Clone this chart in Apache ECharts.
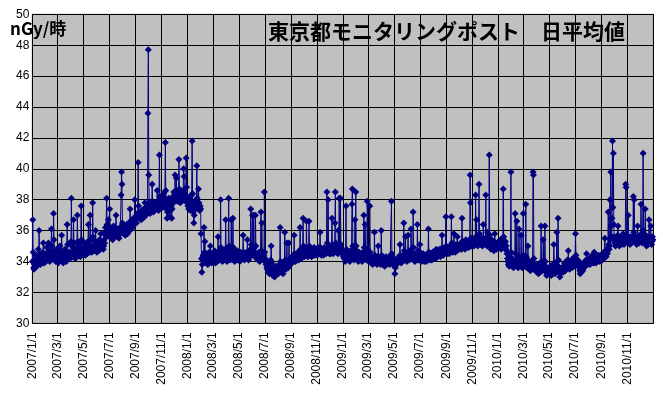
<!DOCTYPE html>
<html><head><meta charset="utf-8">
<script src="https://cdn.jsdelivr.net/npm/echarts@6/dist/echarts.min.js"></script>
<style>html,body{margin:0;padding:0;background:#fff}#c{width:663px;height:395px}</style>
</head><body><div id="c"></div>
<script>
// Daily average values (nGy/h), one array per month, per year
const v2007 = [
[34.0,36.7,34.6,33.6,33.5,33.8,34.1,33.7,33.9,34.4, 34.0,33.7,33.9,34.3,34.8,34.1,36.0,34.2,33.9,33.8, 34.2,34.5,34.0,33.9,34.3,34.6,35.2,34.1,33.9,34.2,34.4],
[34.2,34.0,34.5,34.9,34.3,34.1,34.6,35.2,34.4,34.2, 34.0,34.3,34.7,34.4,36.1,35.0,34.3,34.2,34.6,37.1, 35.4,34.5,34.1,34.3,34.0,34.4,34.8,34.3],
[34.2,34.0,33.9,34.3,34.1,34.6,35.0,34.4,34.1,34.3, 35.7,34.6,34.2,34.0,33.9,34.2,34.5,34.3,34.8,34.4, 34.1,34.0,34.5,36.4,35.1,34.5,34.2,34.3,34.6,34.4,34.2],
[34.5,35.3,38.1,35.0,34.6,34.3,34.5,36.7,35.2,34.6, 34.4,34.2,34.8,34.5,34.3,34.9,37.0,35.3,34.7,34.5, 34.4,35.1,34.6,34.3,34.9,37.6,35.4,34.8,34.6,34.5],
[34.7,34.5,34.9,35.2,34.6,34.4,34.8,35.0,34.7,34.5, 34.9,35.3,36.4,35.1,34.8,34.6,37.0,35.4,34.9,34.7, 34.6,35.0,37.8,35.6,35.0,34.8,34.7,35.1,35.3,36.0,35.0],
[34.8,34.6,35.0,35.2,34.9,34.7,35.1,35.4,34.9,34.8, 35.8,35.2,34.9,35.0,35.3,35.1,34.8,35.0,35.4,35.2, 35.9,36.2,35.7,35.6,38.1,36.4,35.8,35.9,36.7,36.0],
[35.9,37.4,36.2,35.7,35.5,35.8,36.1,35.6,35.4,35.9, 36.3,35.8,35.6,35.7,36.0,36.2,37.0,36.1,35.8,35.6, 35.9,36.0,35.7,35.5,35.8,36.2,36.0,35.9,38.3,39.8,39.0],
[36.5,36.0,35.8,36.1,35.9,36.3,36.0,35.7,35.9,36.2, 36.4,36.1,35.8,36.0,36.3,36.5,36.2,36.0,37.4,36.6, 36.3,36.1,36.4,36.6,36.2,36.5,36.8,36.4,36.6,38.0,36.9],
[36.7,36.9,36.5,36.8,37.1,36.9,40.4,37.6,37.0,36.8, 36.9,37.2,37.0,36.7,36.9,37.3,37.1,36.8,37.0,37.4, 37.2,36.9,37.8,37.3,37.0,37.2,37.5,37.1,37.4,43.6],
[47.7,39.6,37.8,37.3,37.1,37.4,37.6,37.2,37.5,39.0, 37.9,37.4,37.2,37.5,37.7,37.3,37.6,37.8,37.4,37.5, 37.7,38.6,37.9,37.5,37.3,37.6,40.9,38.2,37.7,37.5,37.8],
[37.9,38.2,37.7,37.5,38.0,38.4,37.8,37.6,38.1,41.7, 38.6,37.9,37.4,36.8,37.2,37.6,37.9,38.1,37.5,36.9, 37.3,37.8,38.0,37.6,36.8,37.4,37.9,38.2,37.8,38.5],
[38.0,38.3,39.6,38.4,38.1,39.4,38.2,37.9,38.3,38.0, 38.5,40.6,38.7,38.2,37.8,38.0,38.3,38.1,37.9,38.4, 38.2,38.6,40.0,39.5,38.4,38.1,37.9,38.3,40.7,38.8,38.2]
];
const v2008 = [
[38.0,37.6,37.8,37.4,37.7,38.1,37.5,37.3,37.6,37.9, 38.3,41.8,38.4,37.8,37.2,36.5,37.0,37.4,37.6,37.8, 37.5,37.9,40.2,38.1,37.6,37.4,38.7,37.8,37.5,37.3,37.6],
[37.4,35.8,34.2,33.3,33.8,34.1,34.4,34.0,36.2,34.6, 35.3,34.3,34.0,33.9,34.2,34.5,34.1,33.8,34.0,34.3, 34.6,34.2,34.0,35.0,34.4,34.1,33.9,34.2,34.5],
[34.3,34.1,34.0,34.4,34.7,34.2,33.9,34.1,34.5,34.3, 34.0,34.4,35.6,34.6,34.2,34.1,34.3,34.8,38.0,34.9, 34.4,34.2,34.0,34.3,34.6,34.4,34.1,34.2,34.5,34.8,36.7],
[34.6,34.2,34.0,34.3,34.5,34.9,38.1,35.0,34.4,34.2, 34.1,34.5,36.7,34.8,34.3,34.5,36.8,34.9,34.4,34.2, 34.0,34.3,34.6,34.1,34.4,34.2,34.7,34.5,34.3,34.1],
[34.2,34.4,34.0,34.3,34.6,34.1,34.3,34.5,34.2,34.4, 35.7,34.6,34.3,34.1,34.4,34.2,34.5,34.3,34.6,34.2, 35.4,34.5,34.3,34.1,34.4,34.6,34.3,34.8,37.4,35.1,34.6],
[34.5,37.0,34.8,34.4,37.0,34.9,34.3,34.5,37.0,35.0, 34.4,34.2,34.5,34.3,34.1,34.4,34.6,34.2,34.0,34.3, 34.5,37.2,34.7,36.5,34.6,34.3,34.1,34.2,34.4,38.5],
[34.6,34.2,34.0,33.8,33.9,33.6,33.5,33.7,33.3,33.4, 33.6,33.2,33.5,33.8,34.1,35.0,33.9,33.5,33.3,33.1, 33.4,33.6,33.2,33.0,33.3,33.5,33.7,33.4,33.2,33.6,33.5],
[33.4,33.2,33.6,33.8,33.5,36.2,34.0,33.6,33.3,33.5, 33.7,33.4,33.2,33.6,33.9,33.7,35.9,34.1,33.8,33.5, 33.7,35.2,34.0,33.8,33.6,33.9,35.2,34.1,33.8,34.0,34.2],
[34.0,34.2,33.9,34.3,34.1,34.4,34.0,35.7,34.5,34.2, 34.0,34.3,34.5,34.1,34.4,34.2,34.6,34.3,34.1,34.5, 34.3,36.2,34.8,34.4,34.2,34.5,34.3,34.6,36.8,35.0],
[34.5,34.3,34.6,34.4,34.7,34.5,36.6,34.9,34.5,34.3, 34.6,34.4,36.6,35.0,34.6,34.4,34.7,34.5,34.3,34.6, 34.8,34.5,34.4,34.7,34.9,34.6,34.4,34.5,34.8,34.6,34.5],
[34.6,34.4,34.7,34.9,34.5,34.6,34.8,35.9,34.9,34.6, 34.4,34.7,34.5,34.8,34.6,34.4,34.7,34.9,34.5,34.6, 34.8,34.5,34.7,38.5,35.2,34.8,38.0,35.0,34.7,34.5],
[34.6,34.8,34.5,34.7,35.0,36.8,35.1,34.7,34.5,34.8, 34.6,34.9,36.5,38.5,35.2,34.8,34.6,34.9,34.7,34.5, 36.0,34.9,38.1,35.0,34.7,38.1,35.1,34.8,34.6,34.5,34.7]
];
const v2009 = [
[34.5,34.3,34.6,34.2,34.4,34.0,34.3,37.6,34.8,34.4, 34.2,34.5,34.1,34.3,34.6,34.2,34.0,34.4,34.7,34.3, 34.5,37.7,38.7,35.0,34.6,34.3,34.1,34.4,36.7,34.8,38.5],
[35.0,34.6,34.3,34.5,34.2,34.0,34.4,34.6,34.3,34.1, 34.4,34.2,34.5,34.3,34.0,34.2,34.6,34.4,37.0,34.9, 34.5,36.4,34.7,34.3,34.1,34.4,37.9,34.8],
[34.4,34.2,34.0,34.3,37.6,34.6,34.2,33.9,34.1,34.3, 34.0,33.8,34.2,34.0,34.3,35.9,34.4,34.1,33.9,34.2, 34.0,33.8,34.1,34.3,35.0,34.2,33.9,34.0,34.2,33.8,34.1],
[36.0,34.4,34.0,33.8,34.1,33.9,34.2,34.0,33.7,33.9, 34.1,34.3,34.0,33.8,34.2,34.0,33.9,34.1,34.3,34.0, 33.8,34.1,34.0,34.2,37.9,34.5,34.1,33.9,34.0,34.2],
[34.0,33.7,33.2,33.6,33.9,34.1,33.8,34.0,34.2,33.9, 34.1,34.3,34.0,34.2,35.1,34.4,34.1,33.9,34.2,34.0, 34.3,34.1,34.4,36.5,34.7,34.3,34.1,35.6,34.4,34.2,34.0],
[34.2,34.4,35.7,34.6,34.3,34.1,34.4,34.2,34.5,36.1, 34.8,34.4,34.2,34.5,37.2,34.9,34.4,34.2,34.0,34.3, 34.5,34.2,34.4,34.1,36.4,34.7,34.3,34.1,34.4,34.2],
[35.1,34.6,34.3,34.0,34.2,34.4,34.1,34.3,34.5,34.2, 34.0,34.3,34.1,34.4,34.2,34.0,34.3,34.5,34.2,34.4, 36.1,34.6,34.3,34.1,34.4,34.2,34.5,34.3,34.1,34.4,34.6],
[34.4,34.6,34.3,34.5,34.7,34.4,34.2,34.5,34.8,34.6, 34.3,34.5,34.7,34.4,34.6,34.8,34.5,34.3,34.6,34.4, 34.7,35.7,34.9,34.6,34.4,34.7,34.5,34.8,34.6,34.9,36.9],
[35.0,34.7,34.5,34.8,34.6,34.9,34.7,34.5,34.8,35.0, 34.7,34.9,36.9,35.2,34.8,34.6,34.9,34.7,35.8,35.0, 34.8,34.6,34.9,35.1,34.8,34.7,35.6,35.0,34.8,34.9],
[35.0,34.8,35.1,34.9,35.2,35.0,34.8,36.8,35.3,35.0, 34.9,35.1,35.3,35.0,34.8,35.2,35.4,35.1,34.9,35.2, 35.0,35.3,35.1,34.9,35.2,35.4,39.6,37.8,35.5,35.2,35.0],
[35.2,35.4,35.1,35.3,35.0,35.2,35.5,35.3,38.3,35.6, 36.7,35.4,35.2,35.0,35.3,35.5,39.0,35.8,35.4,35.2, 35.1,35.3,35.5,35.2,35.0,35.3,36.4,35.5,35.2,35.4],
[35.3,35.1,38.3,35.4,35.2,35.0,35.9,35.3,35.1,35.4, 40.9,35.7,35.3,35.0,34.8,35.2,35.4,35.1,34.9,35.2, 35.0,34.7,35.3,35.8,35.2,34.9,35.1,34.8,35.0,35.2,35.1]
];
const v2010 = [
[35.2,35.0,35.3,34.9,35.1,35.4,35.2,34.8,35.0,35.3, 35.1,35.5,38.7,35.6,35.2,34.9,35.1,35.3,34.8,35.0, 34.7,34.5,34.2,34.0,33.8,34.1,33.7,33.9,34.0,34.3,39.8],
[34.6,34.0,33.7,33.9,34.1,33.6,33.8,34.0,33.7,37.1, 34.5,33.9,33.7,36.6,34.2,33.8,33.6,33.9,36.1,34.3, 33.9,33.7,34.0,35.7,34.2,33.8,33.6,33.9],
[37.1,34.4,33.9,33.7,33.8,34.0,37.7,34.3,33.8,33.6, 33.9,35.0,34.1,33.7,33.5,33.8,33.6,33.4,33.7,33.9, 33.6,33.8,34.0,39.8,39.6,34.2,33.8,33.5,33.7,33.4,33.6],
[33.5,33.3,33.6,33.8,33.4,33.2,33.5,33.7,33.3,33.6, 33.9,36.3,34.0,33.6,33.4,33.7,35.4,33.8,33.5,33.7, 36.3,34.0,33.6,33.3,33.1,33.4,33.6,33.2,33.5,33.3],
[33.4,33.2,33.5,33.7,33.3,33.1,33.4,33.6,33.3,33.5, 33.8,35.1,33.9,33.5,33.2,33.4,33.6,33.8,35.9,34.0, 33.7,36.8,34.1,33.6,33.3,33.0,33.2,33.4,33.6,33.3,33.5],
[33.4,33.6,33.3,33.5,33.7,33.9,33.6,33.4,33.8,33.5, 33.7,33.9,34.1,33.8,34.7,34.0,33.7,33.5,33.8,33.6, 33.9,34.1,33.8,33.6,33.9,34.2,33.8,33.7,33.9,34.0],
[34.3,35.8,34.4,34.0,33.8,33.9,34.1,33.7,33.8,34.0, 33.6,33.4,33.2,33.5,33.3,33.6,33.8,33.5,33.4,33.7, 33.9,33.6,33.8,34.0,33.7,33.9,34.1,34.5,33.9,33.8,34.0],
[34.1,33.9,34.0,34.2,33.8,34.0,34.3,34.1,33.9,34.2, 34.0,34.4,34.1,33.9,34.6,34.2,34.0,34.1,33.9,34.2, 34.3,34.1,34.0,34.2,34.4,34.1,34.3,34.0,34.2,34.4,34.3],
[34.2,34.4,34.1,34.3,34.5,34.2,34.4,34.6,35.5,34.7, 34.5,34.3,34.6,34.8,34.5,34.7,37.2,35.1,34.8,35.0, 38.0,35.4,39.8,36.3,35.6,36.8,41.8,37.5,41.0,36.4],
[35.6,35.2,35.4,35.0,35.3,35.5,35.1,35.4,35.7,36.3, 35.5,35.2,35.0,35.3,35.6,35.4,35.1,35.3,35.5,35.2, 35.4,35.8,35.3,35.1,35.4,35.6,35.3,39.0,38.8,35.7,35.4],
[35.3,35.5,37.0,35.6,35.2,35.4,35.1,35.3,35.6,35.4, 35.2,35.5,35.3,35.6,38.2,35.9,38.0,35.7,35.4,35.2, 35.5,35.3,35.1,35.4,36.3,35.6,35.3,35.5,35.2,35.4],
[35.6,35.3,37.7,35.8,35.4,35.2,35.6,41.0,36.0,35.5, 35.3,35.6,37.4,35.7,35.2,35.0,35.4,35.6,35.3,35.1, 35.4,36.7,35.5,35.2,35.3,36.3,35.4,35.1,35.3,35.6,35.4]
];
const years = [2007, 2008, 2009, 2010];
const yearData = [v2007, v2008, v2009, v2010];
const yTicks = {min: 30, max: 50, step: 2};
const titleText = '東京都モニタリングポスト　日平均値';
const unitText = 'nGy/時';

// categories: every day 2007/1/1 .. 2011/1/1
const categories = [];
const values = [];
years.forEach((y, yi) => {
  yearData[yi].forEach((month, mi) => {
    month.forEach((v, di) => {
      categories.push(y + '/' + (mi + 1) + '/' + (di + 1));
      values.push(v);
    });
  });
});
categories.push('2011/1/1');

const isTick = (idx, val) => {
  const p = String(val).split('/');
  return p[2] === '1' && (+p[1]) % 2 === 1;
};
const isLabel = (idx, val) => isTick(idx, val) && val !== '2011/1/1';

const chart = echarts.init(document.getElementById('c'), null, {renderer: 'canvas'});
chart.setOption({
  animation: false,
  backgroundColor: '#ffffff',
  grid: {left: 32.3, right: 9.7, top: 14.3, bottom: 71.7, show: true,
         backgroundColor: '#C0C0C0', borderColor: '#808080', borderWidth: 1},
  xAxis: {
    type: 'category', data: categories, boundaryGap: false,
    axisLine: {lineStyle: {color: '#000', width: 1}},
    axisTick: {show: false, interval: isTick},
    axisLabel: {rotate: 90, interval: isLabel, fontSize: 12, color: '#000',
                fontFamily: 'Liberation Sans, Arial, sans-serif', margin: 9},
    splitLine: {show: true, interval: isTick, lineStyle: {color: '#000', width: 1}}
  },
  yAxis: {
    type: 'value', min: yTicks.min, max: yTicks.max, interval: yTicks.step,
    axisLine: {show: true, lineStyle: {color: '#000', width: 1}},
    axisTick: {show: false},
    axisLabel: {fontSize: 12, color: '#000', fontFamily: 'Liberation Sans, Arial, sans-serif', margin: 3},
    splitLine: {show: true, lineStyle: {color: '#000', width: 1}}
  },
  graphic: [
    {type: 'text', left: 268, top: 21, z: 100,
     style: {text: titleText, fontSize: 21, fontWeight: 'bold', fill: '#000',
             fontFamily: '"Noto Sans CJK JP", sans-serif'}},
    {type: 'text', left: 10, top: 20, z: 100,
     style: {text: unitText, fontSize: 17, fontWeight: 'bold', fill: '#000',
             fontFamily: '"Noto Sans CJK JP", sans-serif'}}
  ],
  series: [{
    type: 'line', data: values, color: '#000080',
    lineStyle: {width: 1, color: '#000080'},
    symbol: 'diamond', symbolSize: 7, showSymbol: true, showAllSymbol: true,
    itemStyle: {color: '#000080'}, sampling: null
  }]
});
</script></body></html>
